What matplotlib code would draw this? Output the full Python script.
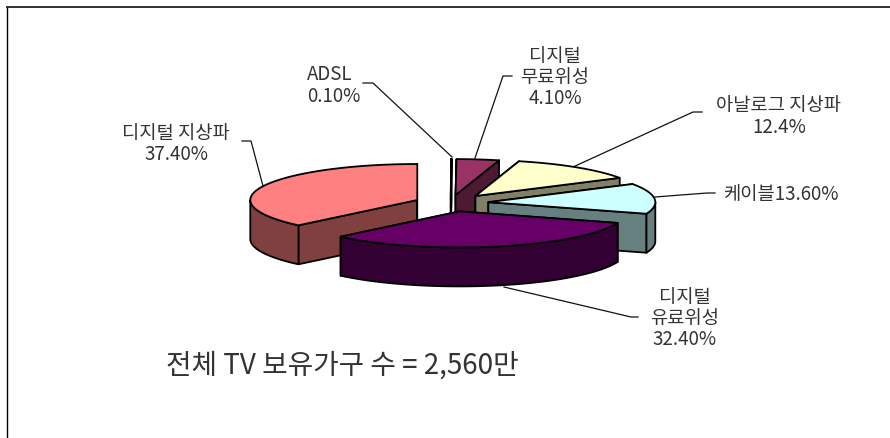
import numpy as np
import matplotlib
matplotlib.use("Agg")
import matplotlib.pyplot as plt
from matplotlib.patches import Polygon

plt.rcParams['font.family'] = ['Noto Sans CJK KR', 'DejaVu Sans']

# Data
categories = ['ADSL', '디지털\n무료위성', '아날로그 지상파', '케이블', '디지털\n유료위성', '디지털 지상파']
values = [0.1, 4.1, 12.4, 13.6, 32.4, 37.4]
value_labels = ['0.10%', '4.10%', '12.4%', '13.60%', '32.40%', '37.40%']
note = '전체 TV 보유가구 수 = 2,560만'

# Style
top_colors = ['#FFFFFF', '#993366', '#FFFFCC', '#CCFFFF', '#660066', '#FF8080']
side_colors = ['#808080', '#4D1933', '#808066', '#668080', '#330033', '#804040']
explode = [38, 37, 41, 38, 40, 36]
CX, CY, RX, RY, DEPTH = 450.5, 204, 167, 36, 39
TXT = '#333333'
LS = 1.02

fig = plt.figure(figsize=(8.9, 4.39), dpi=100)
ax = fig.add_axes([0, 0, 1, 1])
ax.set_xlim(0, 890)
ax.set_ylim(439, 0)
ax.axis('off')

# frame
ax.plot([7, 7], [439, 8], color='black', lw=1.0, zorder=1)
ax.plot([7, 890], [8, 8], color='#222222', lw=1.3, zorder=1)


def rim(t0, t1, ax0, ay0, n=60):
    t = np.radians(np.linspace(t0, t1, n))
    return ax0 + RX * np.sin(t), ay0 - RY * np.cos(t)


def draw_slice(t0, t1, e, top, side, z):
    mid = np.radians((t0 + t1) / 2)
    ax0 = CX + e * np.sin(mid)
    ay0 = CY - e * RY / RX * np.cos(mid)
    x, y = rim(t0, t1, ax0, ay0)
    kw = dict(edgecolor='black', lw=1.3, joinstyle='round', zorder=z)
    # radial walls (back ones first)
    for xr, yr in ((x[0], y[0]), (x[-1], y[-1])):
        ax.add_patch(Polygon([(ax0, ay0), (xr, yr), (xr, yr + DEPTH), (ax0, ay0 + DEPTH)],
                             facecolor=side, **kw))
    # outer wall (only the part facing the viewer)
    a0, a1 = max(t0, 90), min(t1, 270)
    if a1 > a0:
        xo, yo = rim(a0, a1, ax0, ay0)
        ax.add_patch(Polygon(np.r_[np.c_[xo, yo], np.c_[xo, yo + DEPTH][::-1]],
                             facecolor=side, **kw))
    ax.add_patch(Polygon(np.r_[[[ax0, ay0]], np.c_[x, y]], facecolor=top, **kw))


edges = np.r_[0, np.cumsum(values)] / np.sum(values) * 360
order = [5, 0, 1, 2, 3, 4]
for z, i in enumerate(order):
    draw_slice(edges[i], edges[i + 1], explode[i], top_colors[i], side_colors[i], 3 + z)

# leader lines
leaders = [
    [(363, 84), (373, 84), (452, 158)],
    [(242, 142), (251, 142), (263, 187)],
    [(512, 77), (503, 77), (475, 159)],
    [(702, 113), (693, 113), (573, 168)],
    [(715, 194), (707, 194), (655, 198)],
    [(638, 318), (631, 318), (504, 288)],
]
for pts in leaders:
    xs, ys = zip(*pts)
    ax.plot(xs, ys, color='#111111', lw=0.9, zorder=2)

fs = 13.5
ax.text(307, 85.5, f'{categories[0]}\n{value_labels[0]}', fontsize=fs, color=TXT, ha='left', va='center', linespacing=LS)
ax.text(555, 77.5, f'{categories[1]}\n{value_labels[1]}', fontsize=fs, color=TXT, ha='center', va='center', linespacing=LS)
ax.text(779, 116.5, f'{categories[2]}\n{value_labels[2]}', fontsize=fs, color=TXT, ha='center', va='center', linespacing=LS)
ax.text(782, 195, f'{categories[3]}{value_labels[3]}', fontsize=fs, color=TXT, ha='center', va='center')
ax.text(685, 318.5, f'{categories[4]}\n{value_labels[4]}', fontsize=fs, color=TXT, ha='center', va='center', linespacing=LS)
ax.text(176, 144, f'{categories[5]}\n{value_labels[5]}', fontsize=fs, color=TXT, ha='center', va='center', linespacing=LS)
ax.text(342, 366, note, fontsize=20, color=TXT, ha='center', va='center')

fig.savefig('out.png', dpi=100)
